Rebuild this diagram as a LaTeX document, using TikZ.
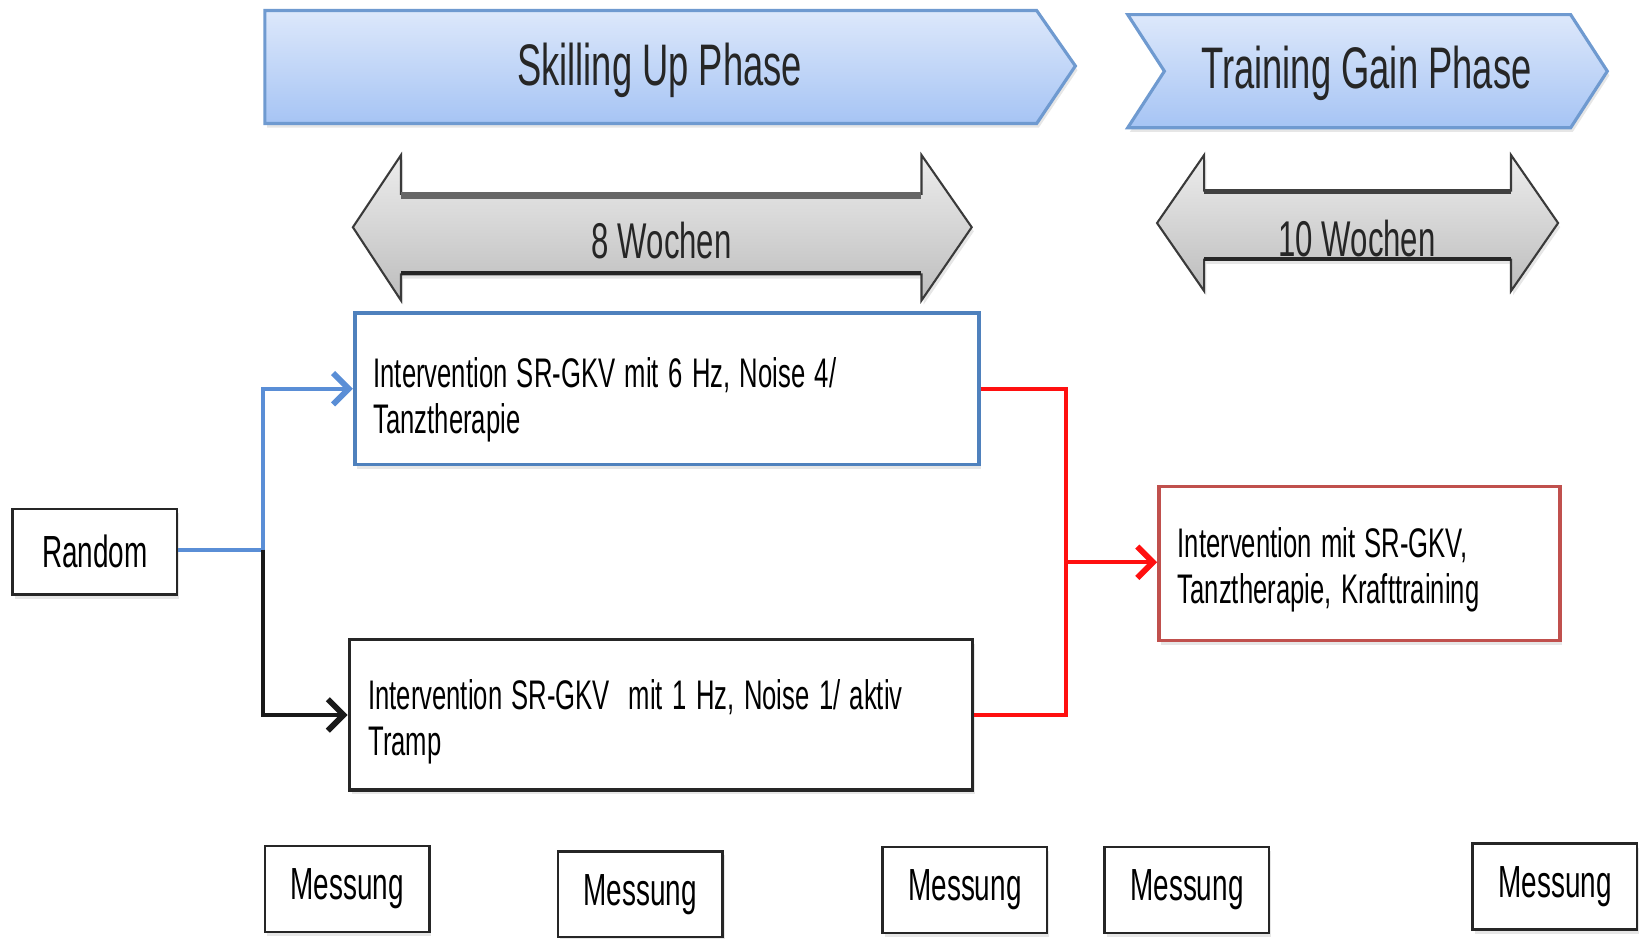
\documentclass[tikz,border=0pt]{standalone}
\usepackage{fontspec}
\setmainfont{Liberation Sans}[FakeStretch=0.62]
\usetikzlibrary{arrows.meta,shadows}
\definecolor{phtop}{HTML}{DDE8FB}
\definecolor{phbot}{HTML}{A6C4F4}
\definecolor{phline}{HTML}{6F9AD0}
\definecolor{grtop}{HTML}{EDEDED}
\definecolor{grbot}{HTML}{BDBDBD}
\definecolor{grline}{HTML}{3A3A3A}
\definecolor{bluebox}{HTML}{4F81BD}
\definecolor{bluecon}{HTML}{5A8ED6}
\definecolor{redbox}{HTML}{C0504D}
\definecolor{redcon}{HTML}{FF1010}
\newcommand\mybxfont{\fontsize{39.5}{44}\selectfont}
\newcommand\tightsp{\spaceskip=9pt plus 1pt minus 1pt\relax}
\begin{document}
\begin{tikzpicture}[x=1pt,y=-1pt,
  softshadow/.style={drop shadow={shadow xshift=2pt,shadow yshift=-4pt,opacity=0.2}},
  phasearrow/.style={top color=phtop,bottom color=phbot,draw=phline,line width=3pt,softshadow},
  durarrow/.style={top color=grtop,bottom color=grbot,draw=grline,line width=2pt,softshadow},
  phasetext/.style={font=\fontsize{56}{64}\selectfont,text=black!85},
  durtext/.style={font=\fontsize{48}{54}\selectfont,text=black!85},
  smallbox/.style={draw=black!85,line width=2.5pt,minimum width=157pt,minimum height=82pt,
    inner sep=0pt,font=\fontsize{43}{48}\selectfont,fill=white,softshadow},
  bigbox/.style={line width=3.5pt,anchor=north west,align=left,inner xsep=18pt,inner ysep=0pt,
    font=\mybxfont,fill=white,softshadow},
  con/.style={line width=4pt},
  tip/.style={-{Straight Barb[length=15pt,width=30pt,line width=5.5pt]}}
]
\useasboundingbox (0,0) rectangle (1571,896);

% phase arrows
\path[phasearrow] (253,10) -- (990,10) -- (1027,63) -- (990,118) -- (253,118) -- cycle;
\node[phasetext] (skill) at (630,67) {Skilling Up Phase};
\path[phasearrow] (1077,14) -- (1500,14) -- (1535,68) -- (1500,122) -- (1077,122) -- (1112,68) -- cycle;
\node[phasetext] (train) at (1305,70) {Training Gain Phase};

% duration arrows
\path[durarrow] (337,217) -- (383,148) -- (383,185) -- (880,185) -- (880,148) -- (928,217)
  -- (880,287) -- (880,262) -- (383,262) -- (383,287) -- cycle;
\draw[line width=7pt,black!60] (383,187) -- (880,187);
\draw[line width=4pt,black!85] (383,261) -- (880,261);
\node[durtext] (w8) at (632,230) {8 Wochen};
\path[durarrow] (1105,213) -- (1150,148) -- (1150,182) -- (1443,182) -- (1443,148) -- (1488,213)
  -- (1443,278) -- (1443,248) -- (1150,248) -- (1150,278) -- cycle;
\draw[line width=5pt,black!75] (1150,183) -- (1443,183);
\draw[line width=4pt,black!85] (1150,247) -- (1443,247);
\node[durtext] (w10) at (1296,228) {10 Wochen};

% boxes
\node[smallbox] (random) at (90.5,527) {Random};
\node[bigbox,draw=bluebox,text width=560pt,minimum width=596pt,minimum height=145pt]
  (box1) at (337,297) {\tightsp\rule{0pt}{50pt}Intervention SR-GKV mit 6 Hz, Noise 4/\\Tanztherapie};
\node[bigbox,draw=black!85,text width=559pt,minimum width=595pt,minimum height=144pt]
  (box2) at (332,609) {\tightsp\rule{0pt}{42pt}Intervention SR-GKV\ \ mit 1 Hz, Noise 1/ aktiv\\Tramp};
\node[bigbox,draw=redbox,text width=347pt,minimum width=383pt,minimum height=147pt]
  (box3) at (1105,463) {\tightsp\rule{0pt}{40pt}Intervention mit SR-GKV,\\Tanztherapie, Krafttraining};

% connectors
\coordinate (bj) at (251,525);
\coordinate (rj) at (1018,537);
\draw[con,bluecon] (random.east |- bj) -- (bj);
\draw[con,bluecon,tip] (bj) |- (box1.west);
\draw[con,black!90,tip] (bj) |- (box2.west);
\draw[con,redcon] (box1.east) -| (rj) |- (box2.east);
\draw[con,redcon,tip] (rj) -- (rj -| box3.west);

% measurement boxes
\node[smallbox] (m1) at (331.5,849) {Messung};
\node[smallbox] (m2) at (611.5,854) {Messung};
\node[smallbox] (m3) at (921.5,850) {Messung};
\node[smallbox] (m4) at (1133.5,850) {Messung};
\node[smallbox] (m5) at (1485,846.5) {Messung};
\end{tikzpicture}
\end{document}
